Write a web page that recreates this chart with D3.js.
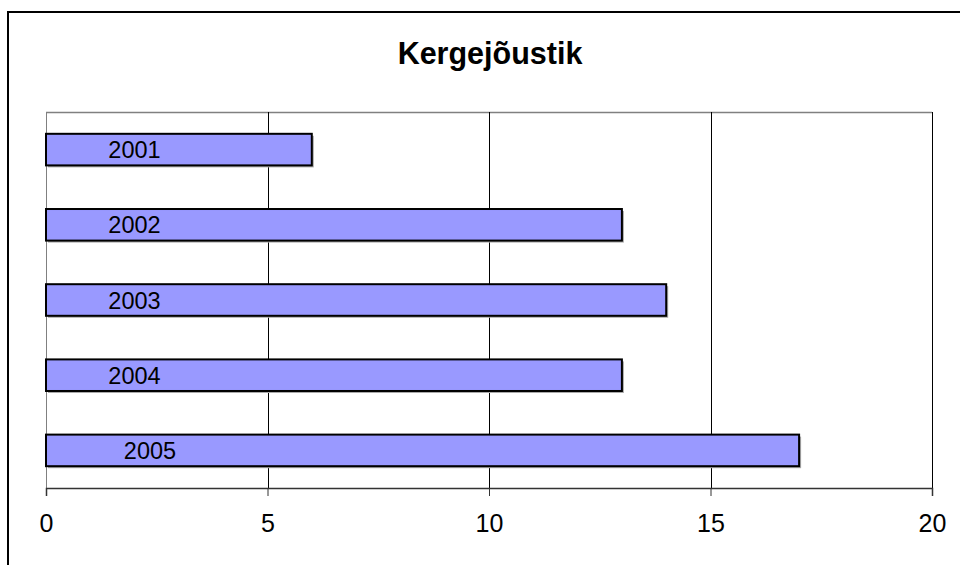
<!DOCTYPE html>
<html>
<head>
<meta charset="utf-8">
<script src="https://cdn.jsdelivr.net/npm/d3@7"></script>
<style>
  html, body { margin: 0; padding: 0; background: #fff; }
  svg { display: block; }
  text { font-family: "Liberation Sans", Arial, sans-serif; }
</style>
</head>
<body>
<svg id="chart" width="960" height="565"></svg>
<script>
// Number of athletics entries per year
const years = ["2001", "2002", "2003", "2004", "2005"];
const counts = [6, 13, 14, 13, 17];
const xTicks = [0, 5, 10, 15, 20];
const title = "Kergejõustik";

const svg = d3.select("#chart");
const W = 960, H = 565;
const plot = { left: 46, right: 932, top: 112, bottom: 488 };

// outer chart frame (runs off the right and bottom edges)
svg.append("path")
  .attr("d", `M8,${H + 5} L8,12 L${W + 5},12`)
  .attr("fill", "none")
  .attr("stroke", "#000")
  .attr("stroke-width", 2);

svg.append("text")
  .attr("x", 490)
  .attr("y", 64)
  .attr("text-anchor", "middle")
  .attr("font-size", 30.5)
  .attr("font-weight", "bold")
  .attr("fill", "#000")
  .text(title);

const x = d3.scaleLinear().domain([0, 20]).range([plot.left, plot.right]);
const y = d3.scaleBand().domain(years).range([plot.top, plot.bottom]).paddingInner(0.58).paddingOuter(0.29);

// plot area border (top and left in grey)
svg.append("line")
  .attr("x1", plot.left).attr("x2", plot.right)
  .attr("y1", plot.top + 0.5).attr("y2", plot.top + 0.5)
  .attr("stroke", "#808080").attr("stroke-width", 1.5);
svg.append("line")
  .attr("x1", plot.left + 0.5).attr("x2", plot.left + 0.5)
  .attr("y1", plot.top).attr("y2", plot.bottom)
  .attr("stroke", "#808080").attr("stroke-width", 1);

// vertical gridlines
svg.append("g")
  .selectAll("line")
  .data(xTicks.filter(d => d > 0))
  .join("line")
  .attr("x1", d => Math.round(x(d)) + 0.5)
  .attr("x2", d => Math.round(x(d)) + 0.5)
  .attr("y1", plot.top)
  .attr("y2", plot.bottom)
  .attr("stroke", "#000")
  .attr("stroke-width", 1);

// bottom axis
const axis = svg.append("g")
  .attr("transform", `translate(0,${plot.bottom})`)
  .call(d3.axisBottom(x).tickValues(xTicks).tickSize(8).tickPadding(18).tickFormat(d3.format("d")));
axis.select(".domain").attr("stroke", "#333").attr("stroke-width", 1.5);
axis.selectAll(".tick line").attr("stroke", "#333");
axis.selectAll(".tick text")
  .attr("font-size", 25)
  .attr("fill", "#000")
  .attr("font-family", '"Liberation Sans", Arial, sans-serif');

// bars
const bars = svg.append("g");
bars.selectAll("rect.shadow")
  .data(years)
  .join("rect")
  .attr("class", "shadow")
  .attr("x", x(0) + 2)
  .attr("y", d => y(d) + 2)
  .attr("width", (d, i) => x(counts[i]) - x(0))
  .attr("height", y.bandwidth())
  .attr("fill", "#aaa");
bars.selectAll("rect.bar")
  .data(years)
  .join("rect")
  .attr("class", "bar")
  .attr("x", x(0))
  .attr("y", d => y(d))
  .attr("width", (d, i) => x(counts[i]) - x(0))
  .attr("height", y.bandwidth())
  .attr("fill", "#9999FF")
  .attr("stroke", "#000")
  .attr("stroke-width", 2);

// year labels inside the bars
bars.selectAll("text")
  .data(years)
  .join("text")
  .attr("x", (d, i) => (i === years.length - 1 ? 150 : 134.5))
  .attr("y", d => y(d) + y.bandwidth() / 2 + 8.5)
  .attr("text-anchor", "middle")
  .attr("font-size", 23.5)
  .attr("fill", "#000")
  .text(d => d);
</script>
</body>
</html>
